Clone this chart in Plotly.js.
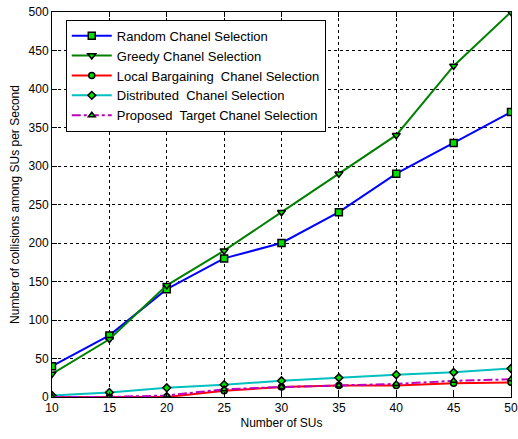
<!DOCTYPE html>
<html><head><meta charset="utf-8">
<script src="https://cdn.plot.ly/plotly-3.0.1.min.js"></script>
<style>html,body{margin:0;padding:0;background:#fff}#chart{width:518px;height:439px}</style>
</head><body><div id="chart"></div>
<script>
const sus = [10, 15, 20, 25, 30, 35, 40, 45, 50];
const randomSel = [40, 80, 140, 180, 200, 240, 290, 330, 370];
const greedySel = [30, 75, 145, 190, 240, 290, 340, 430, 500];
const localSel = [0, 0, 0, 8, 13, 15, 15, 18, 19];
const distributedSel = [2, 6, 12, 16, 21, 25, 29, 32, 37];
const proposedSel = [0, 0, 2, 10, 13, 15, 17, 21, 23];
const names = ['Random Chanel Selection', 'Greedy Chanel Selection', 'Local Bargaining  Chanel Selection', 'Distributed  Chanel Selection', 'Proposed  Target Chanel Selection'];

function tr(y, name, color, symbol, dash, size) {
  return {x: sus, y: y, name: name, type: 'scatter', mode: 'lines+markers',
    line: {color: color, width: 2, dash: dash},
    marker: {symbol: symbol, size: size, color: '#00e000', line: {color: '#000', width: 1.5}}};
}
const data = [
  tr(randomSel, names[0], '#0000ff', 'square', 'solid', 7),
  tr(greedySel, names[1], '#008000', 'triangle-down', 'solid', 7),
  tr(localSel, names[2], '#ff0000', 'circle', 'solid', 6),
  tr(distributedSel, names[3], '#00bfbf', 'diamond', 'solid', 6),
  tr(proposedSel, names[4], '#bf00bf', 'triangle-up', 'dashdot', 6)
];
const axisCommon = {showline: true, linecolor: '#000', linewidth: 1, mirror: 'ticks', ticks: 'inside', ticklen: 5, tickcolor: '#000',
  showgrid: true, gridcolor: '#000', griddash: 'dot', gridwidth: 1, zeroline: false,
  tickfont: {family: 'Liberation Sans, Arial, sans-serif', size: 12, color: '#000'}};
const layout = {
  width: 518, height: 439,
  margin: {l: 52, r: 7, t: 12, b: 42},
  paper_bgcolor: '#fff', plot_bgcolor: '#fff',
  font: {family: 'Liberation Sans, Arial, sans-serif', color: '#000'},
  showlegend: true,
  legend: {x: 0.03, y: 0.98, xanchor: 'left', yanchor: 'top', bgcolor: '#fff', bordercolor: '#000', borderwidth: 1,
    font: {size: 13, color: '#000'}, tracegroupgap: 0, itemwidth: 40},
  xaxis: Object.assign({}, axisCommon, {range: [10, 50], tickvals: sus, title: {text: 'Number of SUs', font: {size: 12}, standoff: 4}}),
  yaxis: Object.assign({}, axisCommon, {range: [0, 500], dtick: 50, title: {text: 'Number of collisions among SUs per Second', font: {size: 12}, standoff: 6}})
};
Plotly.newPlot('chart', data, layout, {displayModeBar: false, staticPlot: true});
</script></body></html>
